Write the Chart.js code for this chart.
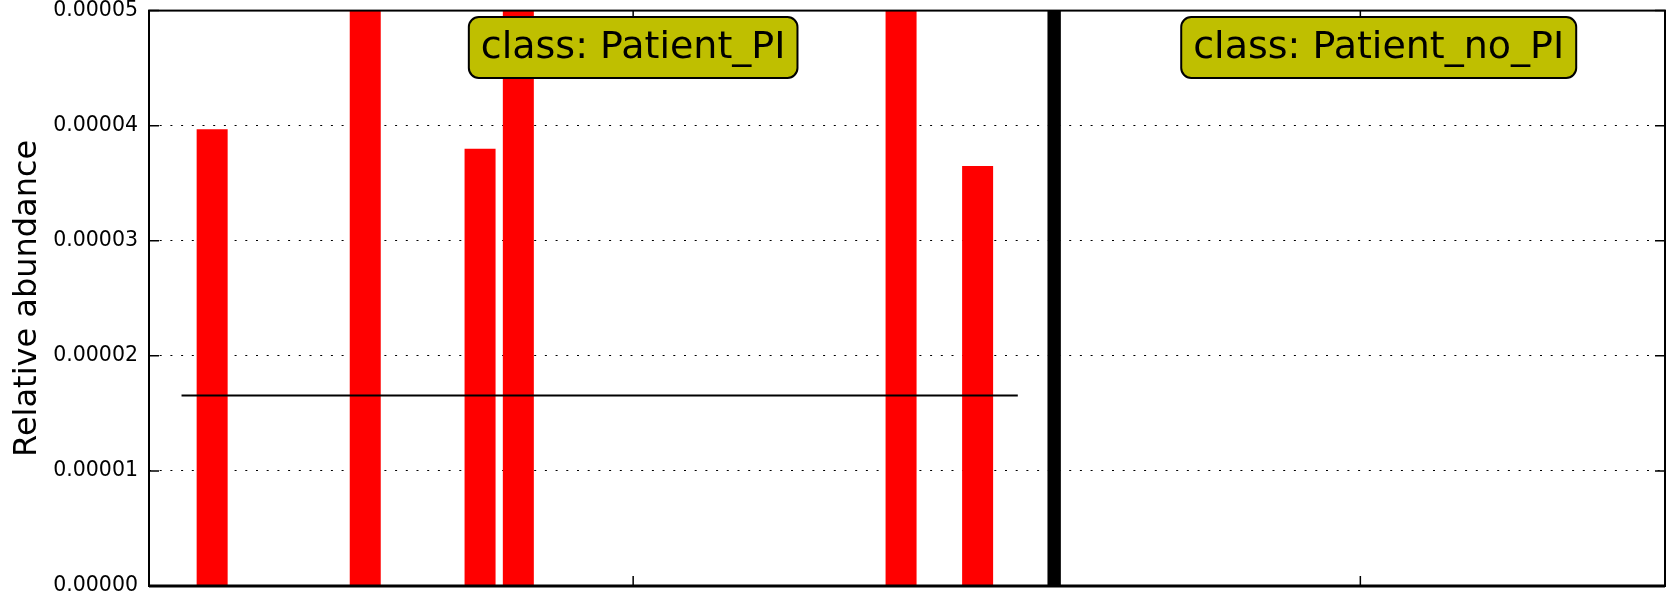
<!DOCTYPE html>
<html>
<head>
<meta charset="utf-8">
<script src="https://cdn.jsdelivr.net/npm/chart.js@4.4.1/dist/chart.umd.min.js"></script>
<style>
  html, body { margin: 0; padding: 0; background: #fff; }
</style>
</head>
<body>
<canvas id="myChart" width="1667" height="600"></canvas>
<script>
// relative abundance per sample, one list per class
var classNames = ["Patient_PI", "Patient_no_PI"];
var piValues = [0.0000397, 0, 0, 0, 0.000076, 0, 0, 0.000038, 0.000092, 0, 0,
                0, 0, 0, 0, 0, 0, 0, 0.0000821, 0, 0.0000365, 0];
var noPiValues = [0, 0, 0, 0, 0, 0, 0, 0, 0, 0, 0, 0, 0, 0];
var yTicks = [0, 0.00001, 0.00002, 0.00003, 0.00004, 0.00005];
var yMax = 0.00005;
var xMin = -1.65, xMax = 37.96;

// samples sit on consecutive slots, separator slot between classes
var sepPos = piValues.length;
var noStart = sepPos + 1;
var piPoints = piValues.map(function (v, i) { return { x: i, y: v }; });
var noPoints = noPiValues.map(function (v, i) { return { x: noStart + i, y: v }; });

function mean(a) {
  var s = 0;
  a.forEach(function (v) { s += v; });
  return s / a.length;
}
var piMean = mean(piValues);
var noMean = mean(noPiValues);

var classTicks = [sepPos / 2, (noStart + noStart + noPiValues.length) / 2];
var labelPos = [classTicks[0], (noStart + xMax) / 2];

var font = "'DejaVu Sans', sans-serif";

// frame, inward tick marks and class boxes
var decor = {
  id: "decor",
  afterDatasetsDraw: function (chart) {
    var ctx = chart.ctx;
    var a = chart.chartArea;
    var xs = chart.scales.x, ys = chart.scales.y;
    ctx.save();
    ctx.strokeStyle = "#000";
    ctx.lineWidth = 1.5;
    yTicks.forEach(function (t) {
      var py = ys.getPixelForValue(t);
      ctx.beginPath();
      ctx.moveTo(a.left, py); ctx.lineTo(a.left + 10, py);
      ctx.moveTo(a.right, py); ctx.lineTo(a.right - 10, py);
      ctx.stroke();
    });
    classTicks.forEach(function (t) {
      var px = xs.getPixelForValue(t);
      ctx.beginPath();
      ctx.moveTo(px, a.bottom); ctx.lineTo(px, a.bottom - 10);
      ctx.moveTo(px, a.top); ctx.lineTo(px, a.top + 10);
      ctx.stroke();
    });
    ctx.lineWidth = 2;
    ctx.strokeRect(a.left, a.top, a.right - a.left, a.bottom - a.top);
    ctx.beginPath();
    ctx.lineWidth = 3;
    ctx.moveTo(a.left, a.bottom); ctx.lineTo(a.right, a.bottom);
    ctx.stroke();
    ctx.restore();
  },
  afterDraw: function (chart) {
    var ctx = chart.ctx;
    var xs = chart.scales.x;
    ctx.save();
    ctx.font = "38px " + font;
    ctx.textAlign = "center";
    ctx.textBaseline = "middle";
    classNames.forEach(function (c, i) {
      var txt = "class: " + c;
      var w = ctx.measureText(txt).width + 24;
      var h = 61;
      var cx = xs.getPixelForValue(labelPos[i]);
      var top = 17;
      ctx.beginPath();
      ctx.roundRect(cx - w / 2, top, w, h, 10);
      ctx.fillStyle = "#bfbf00";
      ctx.fill();
      ctx.lineWidth = 2;
      ctx.strokeStyle = "#000";
      ctx.stroke();
      ctx.fillStyle = "#000";
      ctx.fillText(txt, cx, top + h / 2 + 1);
    });
    ctx.restore();
  }
};

var ctx = document.getElementById("myChart").getContext("2d");
var myChart = new Chart(ctx, {
  type: "bar",
  data: {
    datasets: [
      { data: piPoints, backgroundColor: "#ff0000", barPercentage: 0.81, categoryPercentage: 1, order: 2 },
      { data: noPoints, backgroundColor: "#ff0000", barPercentage: 0.81, categoryPercentage: 1, order: 2 },
      { data: [{ x: sepPos, y: yMax }], backgroundColor: "#000", barPercentage: 0.35, categoryPercentage: 1, order: 2 },
      { type: "line", data: [{ x: -0.8, y: piMean }, { x: sepPos - 0.95, y: piMean }],
        borderColor: "#000", borderWidth: 2, pointRadius: 0, order: 1 },
      { type: "line", data: [{ x: noStart - 0.8, y: noMean }, { x: noStart + noPiValues.length - 0.95, y: noMean }],
        borderColor: "#000", borderWidth: 2, pointRadius: 0, order: 1 }
    ]
  },
  options: {
    responsive: false,
    animation: false,
    datasets: { bar: { grouped: false, borderWidth: 0 } },
    layout: { padding: { top: 10.6, right: 2, left: 0, bottom: 0 } },
    plugins: { legend: { display: false }, tooltip: { enabled: false } },
    scales: {
      x: {
        type: "linear",
        min: xMin,
        max: xMax,
        offset: false,
        grid: { display: false },
        border: { display: false },
        ticks: { display: false },
        afterFit: function (s) {
          s.height = 14;
          s.paddingLeft = 0; s.paddingRight = 0;
        }
      },
      y: {
        min: 0,
        max: yMax,
        afterBuildTicks: function (s) {
          s.ticks = yTicks.map(function (v) { return { value: v }; });
        },
        afterFit: function (s) {
          s.width = 149;
          s.paddingTop = 0; s.paddingBottom = 0;
        },
        grid: { color: "#000", lineWidth: 1, drawTicks: false },
        border: { display: false, dash: [2, 8.7] },
        ticks: {
          padding: 11,
          color: "#000",
          font: { family: font, size: 20.5 },
          callback: function (v) { return v.toFixed(5); }
        },
        title: {
          display: true,
          text: "Relative abundance",
          color: "#000",
          font: { family: font, size: 32 },
          padding: { top: 8, bottom: 0 }
        }
      }
    }
  },
  plugins: [decor]
});
</script>
</body>
</html>
